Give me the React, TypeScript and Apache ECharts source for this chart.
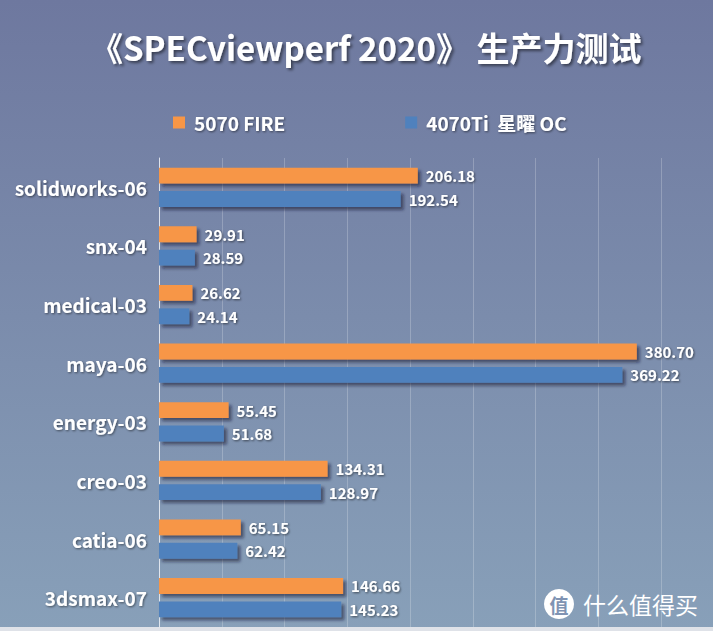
import React, { useEffect, useRef } from "react";
import * as echarts from "echarts";

const categories = [
  "solidworks-06",
  "snx-04",
  "medical-03",
  "maya-06",
  "energy-03",
  "creo-03",
  "catia-06",
  "3dsmax-07",
];
const series5070 = [206.18, 29.91, 26.62, 380.7, 55.45, 134.31, 65.15, 146.66];
const series4070 = [192.54, 28.59, 24.14, 369.22, 51.68, 128.97, 62.42, 145.23];
const seriesNames = ["5070 FIRE", "4070Ti  星曜 OC"];
const titleText = "《SPECviewperf 2020》 生产力测试";
const watermarkText = "什么值得买";

const FONT = "'Noto Sans CJK SC', 'Noto Sans', sans-serif";

export default function App() {
  const ref = useRef<HTMLDivElement>(null);
  useEffect(() => {
    if (!ref.current) return;
    const chart = echarts.init(ref.current, null, { renderer: "svg" });
    const labelStyle = {
      show: true,
      position: "right" as const,
      distance: 8,
      color: "#ffffff",
      fontFamily: FONT,
      fontSize: 15,
      fontWeight: "bold" as const,
      textShadowColor: "rgba(0,0,0,0.55)",
      textShadowBlur: 2,
      textShadowOffsetX: 1,
      textShadowOffsetY: 1,
      formatter: (p: any) => Number(p.value).toFixed(2),
    };
    const shadow = {
      shadowColor: "rgba(20,25,50,0.55)",
      shadowBlur: 3,
      shadowOffsetX: 3,
      shadowOffsetY: 3,
    };
    chart.setOption({
      animation: false,
      backgroundColor: {
        type: "linear",
        x: 0,
        y: 0,
        x2: 0,
        y2: 1,
        colorStops: [
          { offset: 0, color: "#6e789f" },
          { offset: 1, color: "#88a0b9" },
        ],
      },
      title: {
        text: titleText,
        left: 90,
        top: 30,
        padding: 0,
        textStyle: {
          color: "#ffffff",
          fontFamily: FONT,
          fontSize: 33,
          fontWeight: "bold",
          textShadowColor: "rgba(0,0,0,0.5)",
          textShadowBlur: 3,
          textShadowOffsetX: 2,
          textShadowOffsetY: 2,
        },
      },
      legend: {
        top: 108,
        left: 168,
        icon: "rect",
        itemWidth: 12,
        itemHeight: 12,
        itemGap: 120,
        textStyle: {
          color: "#ffffff",
          fontFamily: FONT,
          fontSize: 19,
          fontWeight: "bold",
          padding: [0, 0, 0, 4],
          textShadowColor: "rgba(0,0,0,0.5)",
          textShadowBlur: 2,
          textShadowOffsetX: 1,
          textShadowOffsetY: 1,
        },
        data: seriesNames,
      },
      grid: { left: 159, right: 52, top: 158, bottom: 4, containLabel: false },
      xAxis: {
        type: "value",
        min: 0,
        max: 400,
        interval: 50,
        axisLabel: { show: false },
        axisLine: { show: false },
        axisTick: { show: false },
        splitLine: { lineStyle: { color: "rgba(255,255,255,0.22)", width: 1 } },
      },
      yAxis: {
        type: "category",
        data: categories,
        inverse: true,
        axisTick: { show: false },
        axisLine: { show: true, lineStyle: { color: "rgba(235,238,245,0.85)", width: 1 } },
        axisLabel: {
          margin: 12,
          color: "#ffffff",
          fontFamily: FONT,
          fontSize: 19,
          fontWeight: "bold",
          textShadowColor: "rgba(0,0,0,0.5)",
          textShadowBlur: 2,
          textShadowOffsetX: 1,
          textShadowOffsetY: 1,
        },
      },
      series: [
        {
          name: seriesNames[0],
          type: "bar",
          data: series5070,
          barCategoryGap: "33%",
          barGap: "48%",
          itemStyle: { color: "#f79646", ...shadow },
          label: labelStyle,
        },
        {
          name: seriesNames[1],
          type: "bar",
          data: series4070,
          barCategoryGap: "33%",
          barGap: "48%",
          itemStyle: { color: "#4f81bd", ...shadow },
          label: labelStyle,
        },
      ],
      graphic: [
        {
          type: "rect",
          shape: { x: 0, y: 627, width: 713, height: 4 },
          style: { fill: "#dfe2e8" },
          silent: true,
        },
        {
          type: "circle",
          shape: { cx: 559, cy: 604, r: 15 },
          style: { fill: "#ffffff" },
          silent: true,
        },
        {
          type: "text",
          x: 559,
          y: 604,
          style: {
            text: "值",
            fill: "#7f93b3",
            font: `bold 19px ${FONT}`,
            align: "center",
            verticalAlign: "middle",
          },
          silent: true,
        },
        {
          type: "text",
          x: 583,
          y: 604,
          style: {
            text: watermarkText,
            fill: "#ffffff",
            font: `23px ${FONT}`,
            align: "left",
            verticalAlign: "middle",
          },
          silent: true,
        },
      ],
    });
    return () => chart.dispose();
  }, []);
  return <div ref={ref} style={{ width: 713, height: 631, position: "absolute", left: 0, top: 0 }} />;
}
